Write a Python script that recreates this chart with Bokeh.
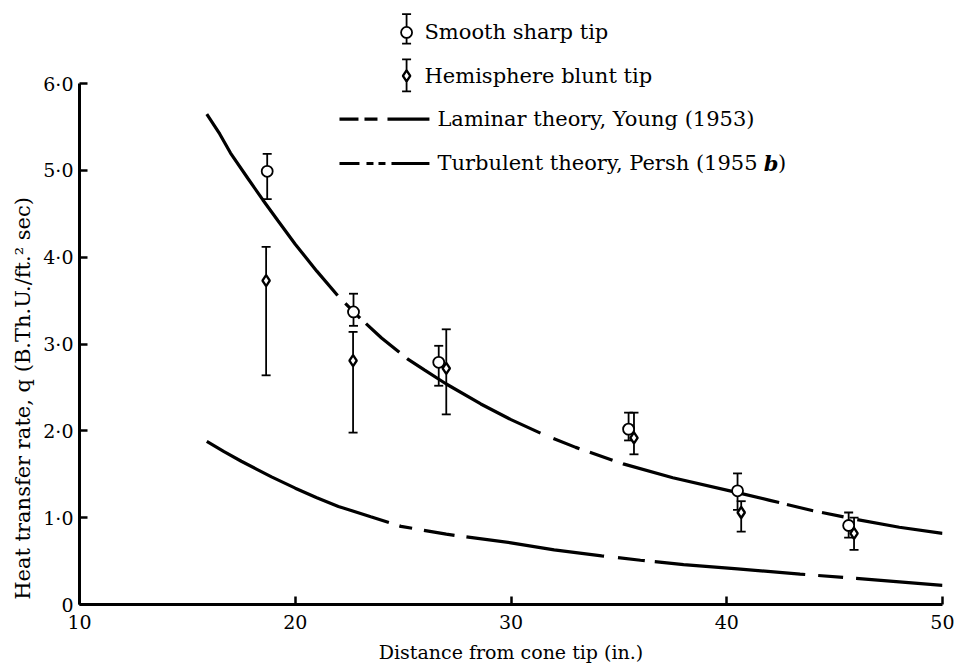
from bokeh.plotting import figure
from bokeh.models import Range1d, ColumnDataSource, Whisker, TeeHead, FixedTicker
from bokeh.core.properties import value
from bokeh.embed import file_html
from bokeh.resources import INLINE

# ---------------- data ----------------
sharp_x = [18.7, 22.7, 26.65, 35.45, 40.5, 45.65]
sharp_q = [4.99, 3.37, 2.79, 2.02, 1.31, 0.91]
sharp_hi = [5.19, 3.58, 2.98, 2.21, 1.51, 1.06]
sharp_lo = [4.67, 3.21, 2.52, 1.89, 1.09, 0.77]

blunt_x = [18.65, 22.68, 27.0, 35.7, 40.67, 45.9]
blunt_q = [3.73, 2.81, 2.72, 1.92, 1.06, 0.82]
blunt_hi = [4.12, 3.14, 3.17, 2.21, 1.19, 1.00]
blunt_lo = [2.64, 1.98, 2.19, 1.73, 0.84, 0.63]

turb_x = [15.9, 16.5, 17.0, 17.8, 18.5, 19.2, 20.0, 21.0, 22.0, 23.0, 24.0, 25.2, 26.0,
          27.0, 28.6, 30.0, 31.4, 33.0, 35.2, 37.5, 40.3, 42.0, 44.0, 46.0, 48.0, 50.0]
turb_q = [5.65, 5.42, 5.20, 4.91, 4.66, 4.42, 4.15, 3.84, 3.55, 3.30, 3.07, 2.83, 2.70,
          2.54, 2.31, 2.13, 1.97, 1.81, 1.62, 1.46, 1.30, 1.20, 1.08, 0.98, 0.89, 0.82]

lam_x = [15.9, 16.7, 17.5, 18.2, 18.9, 20.0, 21.0, 22.0, 23.5, 24.9, 27.0, 30.0, 32.0,
         34.2, 36.0, 38.0, 40.5, 43.4, 46.0, 48.0, 50.0]
lam_q = [1.88, 1.76, 1.65, 1.56, 1.47, 1.34, 1.23, 1.13, 1.01, 0.90, 0.81, 0.71, 0.63,
         0.56, 0.51, 0.46, 0.41, 0.35, 0.30, 0.26, 0.22]

x_ticks = [10, 20, 30, 40, 50]
x_tick_labels = ["10", "20", "30", "40", "50"]
y_ticks = [0, 1, 2, 3, 4, 5, 6]
y_tick_labels = ["0", "1·0", "2·0", "3·0", "4·0", "5·0", "6·0"]

legend_labels = ["Smooth sharp tip", "Hemisphere blunt tip",
                 "Laminar theory, Young (1953)", "Turbulent theory, Persh (1955 "]
legend_tail = ["b", ")"]

x_title = "Distance from cone tip (in.)"
y_title = "Heat transfer rate, q (B.Th.U./ft.² sec)"

# ---------------- figure ----------------
SERIF = "DejaVu Serif"
p = figure(width=954, height=669,
           x_range=Range1d(10, 50), y_range=Range1d(0, 6.9),
           output_backend="svg", toolbar_location=None,
           min_border_left=79, min_border_right=12,
           min_border_top=5, min_border_bottom=65)
p.outline_line_color = None
p.grid.visible = False
p.background_fill_color = "white"
p.border_fill_color = "white"

for ax in (p.xaxis[0], p.yaxis[0]):
    ax.axis_line_width = 3
    ax.axis_line_color = "black"
    ax.major_tick_line_width = 2.5
    ax.major_tick_in = 8
    ax.major_tick_out = 0
    ax.minor_tick_line_color = None
    ax.major_label_text_font = SERIF
    ax.major_label_text_font_size = "19px"
    ax.major_label_text_color = "black"
    ax.axis_label_text_font = SERIF
    ax.axis_label_text_font_style = "normal"
    ax.axis_label_text_color = "black"

p.xaxis.bounds = (10, 50)
p.yaxis.bounds = (0, 6)
p.xaxis.ticker = FixedTicker(ticks=x_ticks)
p.yaxis.ticker = FixedTicker(ticks=y_ticks)
p.xaxis.major_label_overrides = dict(zip(x_ticks, x_tick_labels))
p.yaxis.major_label_overrides = dict(zip(y_ticks, y_tick_labels))
p.xaxis.major_label_standoff = 10
p.yaxis.major_label_standoff = 6
p.xaxis.axis_label = x_title
p.xaxis.axis_label_text_font_size = "19px"
p.xaxis.axis_label_standoff = 9
# trailing no-break spaces push the rotated title down along the axis, as in the original
p.yaxis.axis_label = y_title + "\u00a0" * 28
p.yaxis.axis_label_text_font_size = "21px"
p.yaxis.axis_label_standoff = 5

# ---------------- theory curves ----------------
p.line(turb_x, turb_q, line_color="black", line_width=3.2,
       line_dash="224 11 21 8 44 10 153 14 28 11 24 11 161 8 27 9 22 14 200 10")
p.line(lam_x, lam_q, line_color="black", line_width=3.2,
       line_dash="200 11 13 12 31 12 139 14 27 10 151 13 25 13 300 10")

# ---------------- data points with error bars ----------------
src_s = ColumnDataSource(dict(x=sharp_x, q=sharp_q, hi=sharp_hi, lo=sharp_lo))
src_b = ColumnDataSource(dict(x=blunt_x, q=blunt_q, hi=blunt_hi, lo=blunt_lo))

for src in (src_s, src_b):
    w = Whisker(source=src, base="x", upper="hi", lower="lo", dimension="height",
                line_color="black", line_width=1.8,
                upper_head=TeeHead(size=9, line_width=1.8, line_color="black"),
                lower_head=TeeHead(size=9, line_width=1.8, line_color="black"))
    p.add_layout(w)

p.scatter("x", "q", source=src_s, marker="circle", size=11,
          fill_color="white", line_color="black", line_width=1.8)
p.scatter("x", "q", source=src_b, marker="diamond", size=11,
          fill_color="white", line_color="black", line_width=2.4)

# ---------------- hand-drawn legend (as in the original figure) ----------------
leg_mark_x = 25.16
leg_text_x = 25.99
leg_line_x0, leg_line_x1 = 22.05, 26.22
leg_line_text_x = 26.59
leg_y = [6.59, 6.09, 5.59, 5.08]

leg_src = ColumnDataSource(dict(x=[leg_mark_x, leg_mark_x],
                                hi=[leg_y[0] + 0.21, leg_y[1] + 0.19],
                                lo=[leg_y[0] - 0.13, leg_y[1] - 0.18]))
p.add_layout(Whisker(source=leg_src, base="x", upper="hi", lower="lo", dimension="height",
                     line_color="black", line_width=1.8,
                     upper_head=TeeHead(size=9, line_width=1.8, line_color="black"),
                     lower_head=TeeHead(size=9, line_width=1.8, line_color="black")))
p.scatter([leg_mark_x], [leg_y[0]], marker="circle", size=11,
          fill_color="white", line_color="black", line_width=1.8)
p.scatter([leg_mark_x], [leg_y[1]], marker="diamond", size=11,
          fill_color="white", line_color="black", line_width=2.4)

p.line([leg_line_x0, leg_line_x1], [leg_y[2], leg_y[2]], line_color="black",
       line_width=3.2, line_dash="19 6 13 10 60 10")
p.line([leg_line_x0, leg_line_x1], [leg_y[3], leg_y[3]], line_color="black",
       line_width=3.2, line_dash="20 7 7 5 7 6 60 10")

p.text(x=[leg_text_x, leg_text_x, leg_line_text_x, leg_line_text_x],
       y=leg_y, text=legend_labels,
       text_font=value(SERIF), text_font_size="21px", text_color="black",
       text_baseline="middle", text_align="left")
p.text(x=[41.72], y=[leg_y[3]], text=[legend_tail[0]],
       text_font=value(SERIF), text_font_size="21px", text_font_style="bold italic",
       text_color="black", text_baseline="middle", text_align="left")
p.text(x=[42.38], y=[leg_y[3]], text=[legend_tail[1]],
       text_font=value(SERIF), text_font_size="21px", text_color="black",
       text_baseline="middle", text_align="left")

open("out.html", "w").write(file_html(p, INLINE))
